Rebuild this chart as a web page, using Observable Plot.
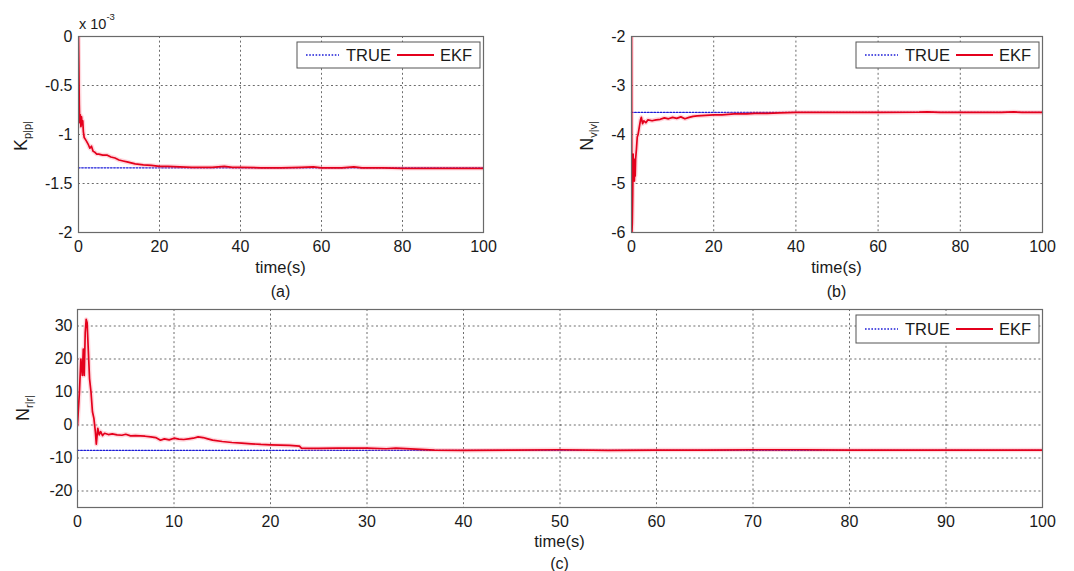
<!DOCTYPE html>
<html><head><meta charset="utf-8">
<script src="https://cdn.jsdelivr.net/npm/d3@7"></script>
<script src="https://cdn.jsdelivr.net/npm/@observablehq/plot@0.6"></script>
<style>
body{margin:0;background:#fff;}
#wrap{position:relative;width:1074px;height:571px;overflow:hidden;font-family:"Liberation Sans",Arial,sans-serif;}
#wrap svg{position:absolute;overflow:visible;}
</style></head><body><div id="wrap"></div>
<script>
// ---------- data ----------
const seriesNames = ["TRUE", "EKF"];
const xLabel = "time(s)";

// panel (a): K_p|p| (values in units of 10^-3)
const timeA = [0,0.1,0.2,0.3,0.45,0.6,0.75,0.9,1.05,1.2,1.4,1.7,2,2.4,2.8,3.2,3.6,4,4.5,5,6,7,8,9,10,11,12,13,14,15,16,18,20,22,25,28,30,33,36,38,40,45,50,55,58,60,65,68,70,75,80,85,90,95,100];
const ekfA = [0,-0.35,-0.7,-0.88,-0.8,-0.92,-0.82,-0.9,-0.86,-0.97,-1.03,-1.05,-1.07,-1.1,-1.14,-1.12,-1.17,-1.18,-1.2,-1.2,-1.21,-1.21,-1.23,-1.24,-1.26,-1.27,-1.28,-1.29,-1.3,-1.305,-1.31,-1.315,-1.325,-1.325,-1.33,-1.335,-1.335,-1.335,-1.325,-1.335,-1.335,-1.34,-1.34,-1.335,-1.33,-1.34,-1.34,-1.33,-1.34,-1.34,-1.345,-1.345,-1.345,-1.345,-1.345];
const trueA = -1.34;
const xTicksA = [0,20,40,60,80,100];
const yTicksA = [0,-0.5,-1,-1.5,-2];

// panel (b): N_v|v|
const timeB = [0,0.1,0.2,0.3,0.4,0.5,0.6,0.7,0.8,0.9,1.0,1.2,1.4,1.6,1.8,2.0,2.2,2.4,2.7,3,3.5,4,5,6,7,8,9,10,11,12,13,14,15,16,18,20,22,25,28,30,33,36,40,50,60,70,72,75,80,90,93,95,100];
const ekfB = [-2,-6,-5.8,-5.2,-4.4,-4.9,-4.5,-4.95,-4.6,-4.85,-4.5,-4.3,-4.05,-4.0,-3.9,-3.8,-3.7,-3.65,-3.78,-3.72,-3.76,-3.7,-3.72,-3.7,-3.69,-3.66,-3.68,-3.65,-3.67,-3.64,-3.68,-3.65,-3.63,-3.62,-3.61,-3.6,-3.6,-3.58,-3.58,-3.57,-3.57,-3.56,-3.55,-3.55,-3.55,-3.545,-3.54,-3.55,-3.55,-3.55,-3.54,-3.55,-3.55];
const trueB = -3.55;
const xTicksB = [0,20,40,60,80,100];
const yTicksB = [-2,-3,-4,-5,-6];

// panel (c): N_r|r|
const timeC = [0,0.2,0.35,0.5,0.6,0.7,0.8,0.9,1.0,1.1,1.25,1.4,1.55,1.7,1.85,1.95,2.1,2.25,2.4,2.6,2.8,3.2,3.6,4.1,4.6,5,5.5,6,7,7.6,8.1,8.6,9,9.5,10,10.5,11,11.5,12,12.5,13,13.5,14,15,16,17,18,19,20,21,22,23,23.2,24,25,27,30,32,33,35,37,40,45,50,55,60,65,70,75,80,85,90,95,100];
const ekfC = [0,10,20,15,23,15,28,32,31,24,14,10,4,2,-2,-5.8,-1,-3,-2,-3.2,-2.5,-2.9,-2.7,-3,-3.1,-2.8,-3.3,-3.2,-3.4,-3.6,-3.8,-4.6,-4.2,-4.5,-4,-4.3,-4.4,-4.2,-4,-3.6,-3.8,-4.2,-4.6,-5,-5.3,-5.5,-5.7,-5.9,-6,-6.1,-6.2,-6.4,-7,-7.1,-7.1,-7,-7,-7.2,-7,-7.3,-7.6,-7.7,-7.6,-7.5,-7.7,-7.6,-7.6,-7.5,-7.5,-7.6,-7.6,-7.6,-7.6,-7.6];
const trueC = -7.7;
const xTicksC = [0,10,20,30,40,50,60,70,80,90,100];
const yTicksC = [30,20,10,0,-10,-20];

// ---------- drawing ----------
const FONT = "'Liberation Sans', Arial, Helvetica, sans-serif";
const TXT = "#1a1a1a";
const BLUE = "#1c1cd8";
const RED = "#e4001c";
const fmt = d => String(d);

function panel(o) {
  const n = Math.min(o.t.length, o.ekf.length);
  const ekfData = o.t.slice(0, n).map((t, i) => ({t, v: o.ekf[i]}));
  const trueData = [{t: o.xDomain[0], v: o.tru}, {t: o.xDomain[1], v: o.tru}];
  const grid = {stroke: "#333", strokeOpacity: 0.8, strokeWidth: 0.9, strokeDasharray: "2,2.6"};
  const svg = Plot.plot({
    width: o.width, height: o.height,
    marginLeft: o.ml, marginRight: o.mr, marginTop: o.mt, marginBottom: o.mb,
    style: {background: "none", fontFamily: FONT, fontSize: "16px", color: TXT, overflow: "visible"},
    x: {domain: o.xDomain},
    y: {domain: o.yDomain},
    marks: [
      Plot.gridX(o.xTicks, grid),
      Plot.gridY(o.yTicks, grid),
      Plot.axisX(o.xTicks, {tickSize: 0, tickPadding: 8, tickFormat: fmt, label: null, fontSize: 16}),
      Plot.axisY(o.yTicks, {tickSize: 0, tickPadding: o.yPad, tickFormat: fmt, label: null, fontSize: 16}),
      Plot.line(trueData, {x: "t", y: "v", stroke: BLUE, strokeWidth: 1.3, strokeDasharray: "1.6,1.6"}),
      Plot.line(ekfData, {x: "t", y: "v", stroke: "#ff7f92", strokeWidth: 4.5, strokeOpacity: 0.3, clip: true}),
      Plot.line(ekfData, {x: "t", y: "v", stroke: RED, strokeWidth: 1.7, strokeLinejoin: "round", clip: true}),
      Plot.frame({stroke: "#6a6a6a", strokeWidth: 1.2})
    ]
  });
  svg.style.left = o.left + "px";
  svg.style.top = o.top + "px";
  const s = d3.select(svg);
  const R = o.width - o.mr, T = o.mt;
  // legend
  const lw = 183, lh = o.lh, lx = R - 3 - lw, ly = T + 6, cy = ly + lh / 2;
  const g = s.append("g").attr("font-family", FONT).attr("font-size", 16.5).attr("fill", TXT).attr("text-anchor", "start");
  g.append("rect").attr("x", lx).attr("y", ly).attr("width", lw).attr("height", lh)
    .attr("fill", "#fff").attr("stroke", "#555").attr("stroke-width", 1);
  g.append("line").attr("x1", lx + 9).attr("x2", lx + 42).attr("y1", cy).attr("y2", cy)
    .attr("stroke", BLUE).attr("stroke-width", 1.3).attr("stroke-dasharray", "1.6,1.6");
  g.append("text").attr("x", lx + 49).attr("y", cy).attr("dy", "0.36em").text(seriesNames[0]);
  g.append("line").attr("x1", lx + 100).attr("x2", lx + 137).attr("y1", cy).attr("y2", cy)
    .attr("stroke", RED).attr("stroke-width", 1.8);
  g.append("text").attr("x", lx + 143).attr("y", cy).attr("dy", "0.36em").text(seriesNames[1]);
  // x label and caption
  const cx = (o.ml + R) / 2;
  s.append("text").attr("x", cx).attr("y", o.xlabY).attr("text-anchor", "middle")
    .attr("font-family", FONT).attr("font-size", 16.5).attr("fill", TXT).text(xLabel);
  s.append("text").attr("x", cx).attr("y", o.capY).attr("text-anchor", "middle")
    .attr("font-family", FONT).attr("font-size", 16).attr("fill", TXT).text(o.caption);
  // y label with subscript
  const yl = s.append("text").attr("transform", `translate(${o.ylX},${o.ylY}) rotate(-90)`)
    .attr("text-anchor", "middle").attr("font-family", FONT).attr("font-size", 18).attr("fill", TXT);
  yl.append("tspan").text(o.yMain);
  yl.append("tspan").attr("font-size", 11).attr("dy", "0.4em").text(o.ySub);
  document.getElementById("wrap").appendChild(svg);
  return s;
}

const sA = panel({left: 0, top: 0, width: 540, height: 290, ml: 78, mr: 57, mt: 36, mb: 58,
  xDomain: [0, 100], yDomain: [-2, 0], xTicks: xTicksA, yTicks: yTicksA, yPad: 6,
  t: timeA, ekf: ekfA, tru: trueA, lh: 26, xlabY: 273, capY: 297, caption: "(a)",
  ylX: 27, ylY: 136, yMain: "K", ySub: "p|p|"});
// exponent note
const ex = sA.append("text").attr("x", 79).attr("y", 29).attr("text-anchor", "start")
  .attr("font-family", FONT).attr("font-size", 14.5).attr("fill", TXT);
ex.append("tspan").text("x 10");
ex.append("tspan").attr("font-size", 9.5).attr("dy", "-0.9em").text("-3");

panel({left: 540, top: 0, width: 534, height: 290, ml: 91, mr: 32, mt: 36, mb: 58,
  xDomain: [0, 100], yDomain: [-6, -2], xTicks: xTicksB, yTicks: yTicksB, yPad: 6,
  t: timeB, ekf: ekfB, tru: trueB, lh: 26, xlabY: 273, capY: 297, caption: "(b)",
  ylX: 53, ylY: 136, yMain: "N", ySub: "v|v|"});

panel({left: 0, top: 290, width: 1074, height: 281, ml: 77, mr: 32, mt: 19, mb: 64,
  xDomain: [0, 100], yDomain: [-25, 35], xTicks: xTicksC, yTicks: yTicksC, yPad: 5,
  t: timeC, ekf: ekfC, tru: trueC, lh: 28, xlabY: 257, capY: 279, caption: "(c)",
  ylX: 29, ylY: 118, yMain: "N", ySub: "r|r|"});
</script>
</body></html>
